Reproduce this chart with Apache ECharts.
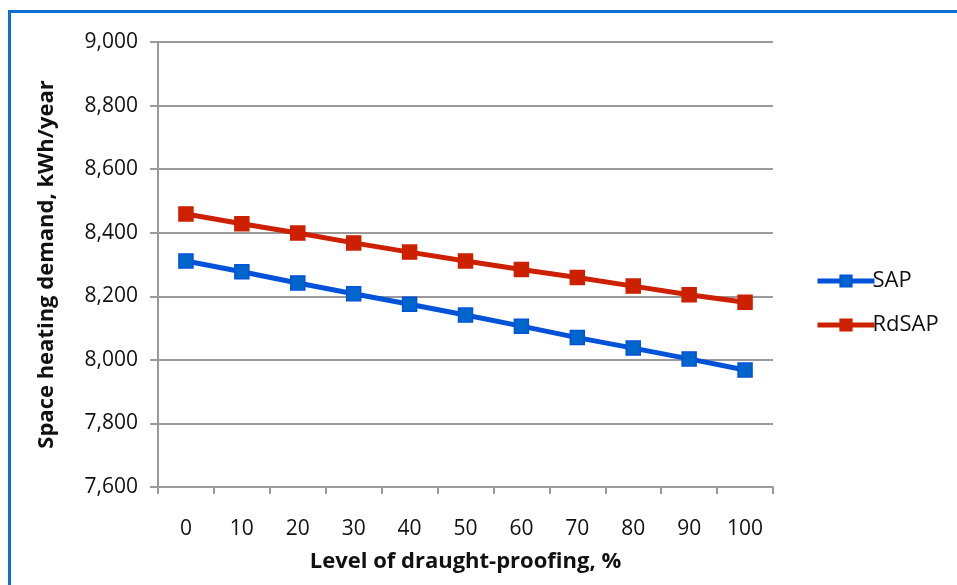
<!DOCTYPE html>
<html>
<head>
<meta charset="utf-8">
<script src="https://cdn.jsdelivr.net/npm/echarts@6/dist/echarts.min.js"></script>
<style>
html,body{margin:0;padding:0;background:#fff;}
#frame{position:absolute;left:8px;top:10px;width:960px;height:600px;border-top:3px solid #0b6fd3;border-left:3px solid #0b6fd3;box-sizing:border-box;}
#chart{position:absolute;left:0;top:0;width:957px;height:585px;}
</style>
</head>
<body>
<div id="frame"></div>
<div id="chart"></div>
<script>
const categories = ['0','10','20','30','40','50','60','70','80','90','100'];
const sapValues = [8311, 8277, 8242, 8208, 8175, 8141, 8106, 8070, 8037, 8003, 7968];
const rdsapValues = [8459, 8428, 8399, 8368, 8339, 8311, 8284, 8259, 8232, 8205, 8181];
const yTicks = {min: 7600, max: 9000, interval: 200};

const chart = echarts.init(document.getElementById('chart'));
const font = 'Open Sans, Noto Sans, sans-serif';
chart.setOption({
  animation: false,
  backgroundColor: 'transparent',
  grid: {left: 158, right: 184, top: 42, bottom: 98},
  legend: {
    orient: 'vertical',
    left: 810, top: 265,
    itemGap: 22,
    itemWidth: 57, itemHeight: 14,
    textStyle: {fontFamily: font, fontSize: 22, color: '#111', padding: [0,0,0,-7]},
    data: [
      {name: 'SAP', lineStyle: {width: 5, color: '#0052d9'}},
      {name: 'RdSAP', lineStyle: {width: 5, color: '#cc2000'}}
    ]
  },
  xAxis: {
    type: 'category',
    data: categories,
    boundaryGap: true,
    name: 'Level of draught-proofing, %',
    nameLocation: 'middle',
    nameGap: 64,
    nameTextStyle: {fontFamily: font, fontSize: 22, fontWeight: 'bold', color: '#111'},
    axisLine: {lineStyle: {color: '#9a9a9a', width: 2}},
    axisTick: {show: true, length: 7, alignWithLabel: false, lineStyle: {color: '#9a9a9a', width: 2}},
    axisLabel: {fontFamily: font, fontSize: 21, color: '#111', margin: 32}
  },
  yAxis: {
    type: 'value',
    min: yTicks.min, max: yTicks.max, interval: yTicks.interval,
    name: 'Space heating demand, kWh/year',
    nameLocation: 'middle',
    nameGap: 100,
    nameTextStyle: {fontFamily: font, fontSize: 22, fontWeight: 'bold', color: '#111'},
    axisLine: {show: true, lineStyle: {color: '#9a9a9a', width: 2}},
    axisTick: {show: true, length: 8, lineStyle: {color: '#9a9a9a', width: 2}},
    splitLine: {show: true, lineStyle: {color: '#9a9a9a', width: 2}},
    axisLabel: {fontFamily: font, fontSize: 21, color: '#111', margin: 20,
      formatter: v => v.toLocaleString('en-US')}
  },
  series: [
    {
      name: 'SAP', type: 'line', data: sapValues,
      symbol: 'rect', symbolSize: 14,
      lineStyle: {color: '#0052d9', width: 5},
      itemStyle: {color: '#0066cc', borderColor: '#0052d9', borderWidth: 1.5},
      color: '#0052d9'
    },
    {
      name: 'RdSAP', type: 'line', data: rdsapValues,
      symbol: 'rect', symbolSize: 14,
      lineStyle: {color: '#cc2000', width: 5},
      itemStyle: {color: '#cc2000', borderColor: '#cc2000', borderWidth: 1.5},
      color: '#cc2000'
    }
  ]
});
</script>
</body>
</html>
